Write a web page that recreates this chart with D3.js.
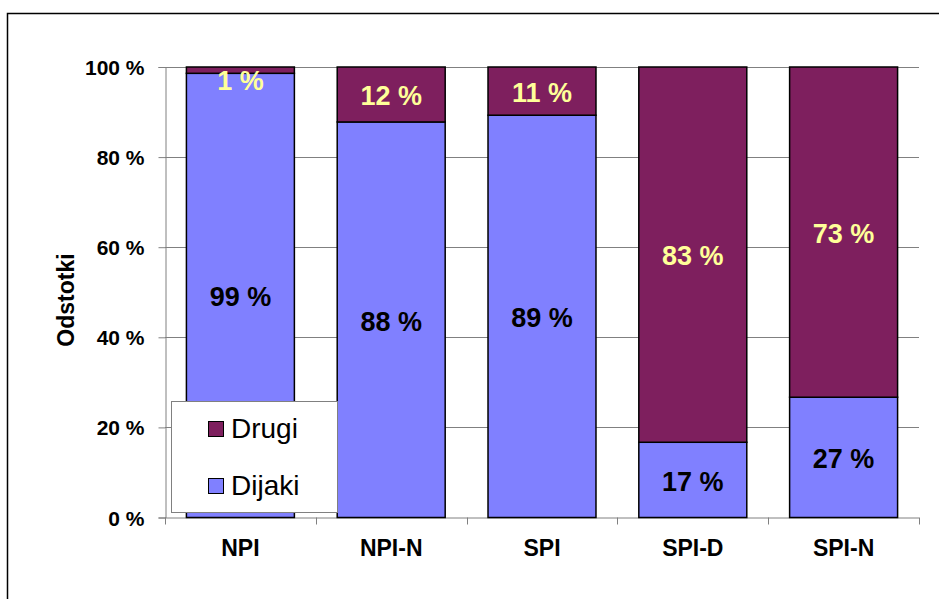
<!DOCTYPE html>
<html>
<head>
<meta charset="utf-8">
<script src="https://cdn.jsdelivr.net/npm/d3@7"></script>
<style>
html,body{margin:0;padding:0;background:#fff;}
svg{display:block;}
text{font-family:Arial,"Liberation Sans",sans-serif;}
</style>
</head>
<body>
<svg id="chart" width="939" height="599"></svg>
<script>
const categories = ["NPI", "NPI-N", "SPI", "SPI-D", "SPI-N"];
const dijaki = [98.6, 87.8, 89.3, 16.7, 26.7];
const drugi = [1.4, 12.2, 10.7, 83.3, 73.3];
const dijakiLabels = ["99 %", "88 %", "89 %", "17 %", "27 %"];
const drugiLabels = ["1 %", "12 %", "11 %", "83 %", "73 %"];
const yTicks = [0, 20, 40, 60, 80, 100];
const seriesNames = ["Drugi", "Dijaki"];
const yTitle = "Odstotki";

const colDijaki = "#8080ff";
const colDrugi = "#7e1f5e";
const colLabelDrugi = "#ffff99";

const svg = d3.select("#chart");
const pLeft = 165, pRight = 919, pTop = 67, pBottom = 517.5;

// outer frame
svg.append("rect").attr("x", 7.5).attr("y", 13.5).attr("width", 940).attr("height", 600)
  .attr("fill", "none").attr("stroke", "#000").attr("stroke-width", 1.5);

const x = d3.scaleBand().domain(categories).range([pLeft, pRight]).paddingInner(0.284).paddingOuter(0.142);
const y = d3.scaleLinear().domain([0, 100]).range([pBottom, pTop]);

// gridlines
svg.append("g").selectAll("line").data(yTicks.filter(d => d > 0)).join("line")
  .attr("x1", pLeft).attr("x2", pRight)
  .attr("y1", d => Math.round(y(d)) + 0.5).attr("y2", d => Math.round(y(d)) + 0.5)
  .attr("stroke", "#808080").attr("stroke-width", 1);

// y axis
const yAxis = d3.axisLeft(y).tickValues(yTicks).tickFormat(d => d + " %").tickSize(7).tickPadding(14);
const gy = svg.append("g").attr("transform", `translate(${pLeft + 0.5},0)`).call(yAxis);
gy.select(".domain").attr("stroke", "#808080");
gy.selectAll(".tick line").attr("stroke", "#808080");
gy.selectAll(".tick text").attr("font-size", 21).attr("font-weight", "bold").attr("fill", "#000")
  .attr("font-family", "Arial, 'Liberation Sans', sans-serif").attr("dy", "0.36em");

// x axis
const xBound = d3.scaleLinear().domain([0, categories.length]).range([pLeft, pRight]);
const gx = svg.append("g").attr("transform", `translate(0,${pBottom})`);
gx.append("line").attr("x1", pLeft).attr("x2", pRight).attr("y1", 0.5).attr("y2", 0.5).attr("stroke", "#808080");
gx.selectAll("line.tk").data(d3.range(categories.length + 1)).join("line").attr("class", "tk")
  .attr("x1", d => Math.round(xBound(d)) + 0.5).attr("x2", d => Math.round(xBound(d)) + 0.5)
  .attr("y1", 0).attr("y2", 7).attr("stroke", "#808080");
gx.selectAll("text").data(categories).join("text")
  .attr("x", d => x(d) + x.bandwidth() / 2).attr("y", 38.5)
  .attr("text-anchor", "middle").attr("font-size", 23).attr("font-weight", "bold").text(d => d);

// bars
const rows = categories.map((c, i) => ({ c, dijaki: dijaki[i], drugi: drugi[i], lDij: dijakiLabels[i], lDru: drugiLabels[i] }));
const bars = svg.append("g");
bars.selectAll("rect.dij").data(rows).join("rect").attr("class", "dij")
  .attr("x", d => x(d.c)).attr("width", x.bandwidth())
  .attr("y", d => y(d.dijaki)).attr("height", d => y(0) - y(d.dijaki))
  .attr("fill", colDijaki).attr("stroke", "#000").attr("stroke-width", 1.5);
bars.selectAll("rect.dru").data(rows).join("rect").attr("class", "dru")
  .attr("x", d => x(d.c)).attr("width", x.bandwidth())
  .attr("y", d => y(d.dijaki + d.drugi)).attr("height", d => y(d.dijaki) - y(d.dijaki + d.drugi))
  .attr("fill", colDrugi).attr("stroke", "#000").attr("stroke-width", 1.5);

// labels
const lab = svg.append("g").attr("font-size", 27).attr("font-weight", "bold").attr("text-anchor", "middle");
lab.selectAll("text.dij").data(rows).join("text").attr("class", "dij")
  .attr("x", d => x(d.c) + x.bandwidth() / 2)
  .attr("y", d => (y(0) + y(d.dijaki)) / 2 + 11)
  .attr("fill", "#000").text(d => d.lDij);
lab.selectAll("text.dru").data(rows).join("text").attr("class", "dru")
  .attr("x", d => x(d.c) + x.bandwidth() / 2)
  .attr("y", d => Math.max((y(d.dijaki) + y(d.dijaki + d.drugi)) / 2, pTop + 12.5) + 10.5)
  .attr("fill", colLabelDrugi).text(d => d.lDru);

// y title
svg.append("text").attr("transform", "translate(73.5,300) rotate(-90)")
  .attr("text-anchor", "middle").attr("font-size", 23).attr("font-weight", "bold").text(yTitle);

// legend
const lg = svg.append("g");
lg.append("rect").attr("x", 171.5).attr("y", 401.5).attr("width", 166).attr("height", 111)
  .attr("fill", "#fff").attr("stroke", "#808080").attr("stroke-width", 1);
const legendItems = [{ n: seriesNames[0], c: colDrugi, y: 421 }, { n: seriesNames[1], c: colDijaki, y: 478 }];
lg.selectAll("rect.sw").data(legendItems).join("rect").attr("class", "sw")
  .attr("x", 208.5).attr("y", d => d.y + 0.5).attr("width", 15).attr("height", 15)
  .attr("fill", d => d.c).attr("stroke", "#000").attr("stroke-width", 1);
lg.selectAll("text").data(legendItems).join("text")
  .attr("x", 231).attr("y", d => d.y + 17).attr("font-size", 28).text(d => d.n);
</script>
</body>
</html>
